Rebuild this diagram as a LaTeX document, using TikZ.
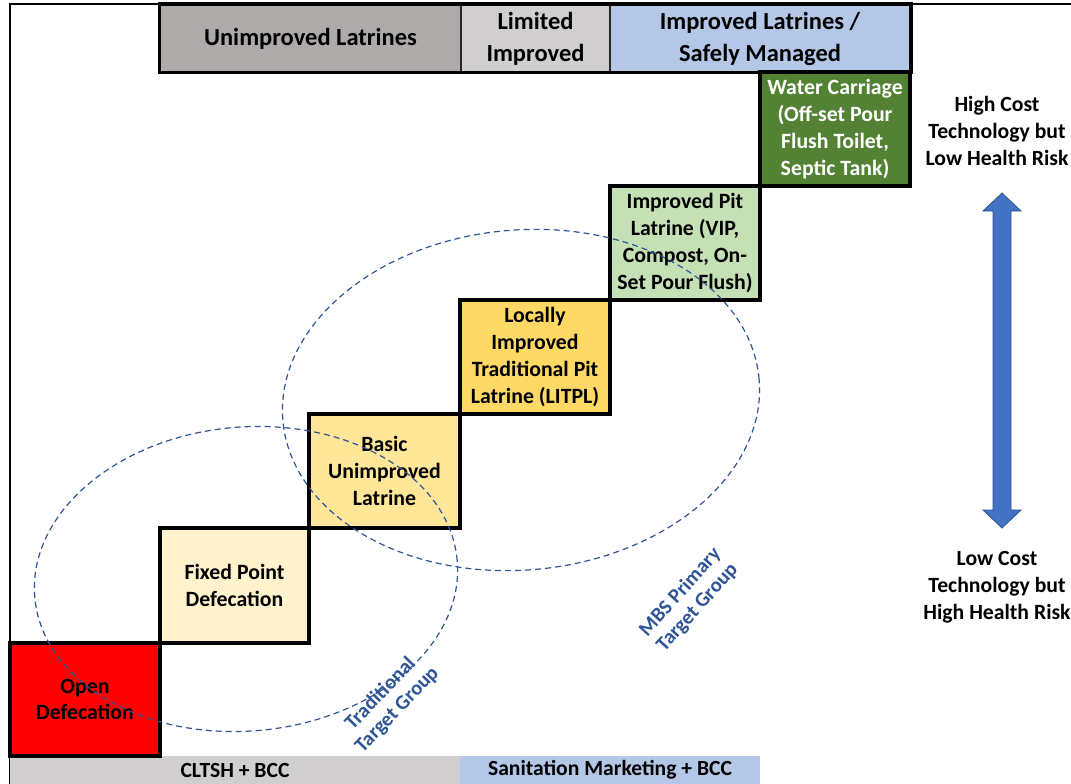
\documentclass[tikz,border=0pt]{standalone}
\usepackage{fontspec}
\setmainfont{Carlito}
\usetikzlibrary{positioning}

\definecolor{hdrdark}{HTML}{AEAAAA}
\definecolor{hdrlight}{HTML}{D0CECE}
\definecolor{hdrblue}{HTML}{B4C7E7}
\definecolor{odred}{HTML}{FF0000}
\definecolor{stepA}{HTML}{FFF2CC}
\definecolor{stepB}{HTML}{FFE699}
\definecolor{stepC}{HTML}{FFD966}
\definecolor{stepD}{HTML}{C5E0B4}
\definecolor{stepE}{HTML}{548235}
\definecolor{groupblue}{HTML}{2F5597}
\definecolor{arrowfill}{HTML}{4472C4}
\definecolor{arrowedge}{HTML}{2F528F}

\tikzset{
  boxtext/.style={font=\fontsize{21.8}{26.8}\selectfont\bfseries, align=center},
  hdrcell/.style={rectangle, draw=black!85, line width=1.2pt, inner sep=0pt,
    font=\fontsize{24.5}{32}\selectfont\bfseries, align=center},
  stepbox/.style={rectangle, draw=black, line width=3.8pt, inner sep=0pt,
    boxtext},
  barcell/.style={rectangle, inner sep=0pt, font=\fontsize{21.6}{24}\selectfont\bfseries},
  groupring/.style={draw=groupblue, line width=1.2pt, dash pattern=on 6pt off 4pt},
  grouplabel/.style={text=groupblue, font=\fontsize{20.5}{23}\selectfont\bfseries, align=center},
  sidetext/.style={font=\fontsize{21.7}{26.8}\selectfont\bfseries, align=center},
}

\begin{document}
\begin{tikzpicture}[x=1pt, y=-1pt]
\useasboundingbox (0,0) rectangle (1071,784);
\fill[white] (0,0) rectangle (1071,784);

% outer frame (top and left edges)
\draw[line width=2.2pt] (10,784) -- (10,4) -- (1071,4);

% header row
\node[hdrcell, fill=hdrdark, minimum width=301pt, minimum height=67pt] (hunimp) at (310.5,38.5) {Unimproved Latrines};
\node[hdrcell, fill=hdrlight, minimum width=149pt, minimum height=67pt] (hlim) at (535.5,38.5) {Limited\\Improved};
\node[hdrcell, fill=hdrblue, minimum width=300pt, minimum height=67pt] (himp) at (760,38.5) {Improved Latrines /\\Safely Managed};
\draw[line width=3.8pt] (hunimp.north west) rectangle (himp.south east);

% bottom bar
\node[barcell, fill=hdrlight, minimum width=450pt, minimum height=28pt] (cltsh) at (235,770) {CLTSH + BCC};
\node[barcell, fill=hdrblue, minimum width=300pt, minimum height=28pt] (sanmkt) at (610,770) {Sanitation Marketing + BCC};

% sanitation ladder steps
\node[stepbox, fill=odred, minimum width=150pt, minimum height=113pt] (open) at (85,699.5) {Open\\Defecation};
\node[stepbox, fill=stepA, minimum width=149pt, minimum height=115pt] (fixed) at (234.5,585.5) {Fixed Point\\Defecation};
\node[stepbox, fill=stepB, minimum width=151pt, minimum height=114pt] (basic) at (384.5,471) {Basic\\Unimproved\\Latrine};
\node[stepbox, fill=stepC, minimum width=150pt, minimum height=114pt] (litpl) at (535,357) {Locally\\Improved\\Traditional Pit\\Latrine (LITPL)};
\node[stepbox, fill=stepD, minimum width=150pt, minimum height=114pt] (vip) at (685,243) {Improved Pit\\Latrine (VIP,\\Compost, On-\\Set Pour Flush)};
\node[stepbox, fill=stepE, text=white, minimum width=150pt, minimum height=114pt] (water) at (835,129) {Water Carriage\\(Off-set Pour\\Flush Toilet,\\Septic Tank)};

% target group rings
\draw[groupring] (246,579) ellipse [x radius=212pt, y radius=152pt, rotate=5];
\draw[groupring] (521,400) ellipse [x radius=239pt, y radius=170pt, rotate=5];
\node[grouplabel, rotate=46] (tradlbl) at (389,702) {Traditional\\Target Group};
\node[grouplabel, rotate=48] (mbslbl) at (689,600) {MBS Primary\\Target Group};

% cost / risk scale
\node[sidetext] (high) at (997,131) {High Cost\\Technology but\\Low Health Risk};
\node[sidetext] (low) at (997,587) {Low Cost\\Technology but\\High Health Risk};
\coordinate (atop) at (1002,193);
\coordinate (abot) at (1002,528);
\filldraw[fill=arrowfill, draw=arrowedge, line width=0.8pt]
  (atop) -- (1021,211) -- (1011,211) -- (1011,510) -- (1021,510) -- (abot)
  -- (983,510) -- (993,510) -- (993,211) -- (983,211) -- cycle;
\end{tikzpicture}
\end{document}
